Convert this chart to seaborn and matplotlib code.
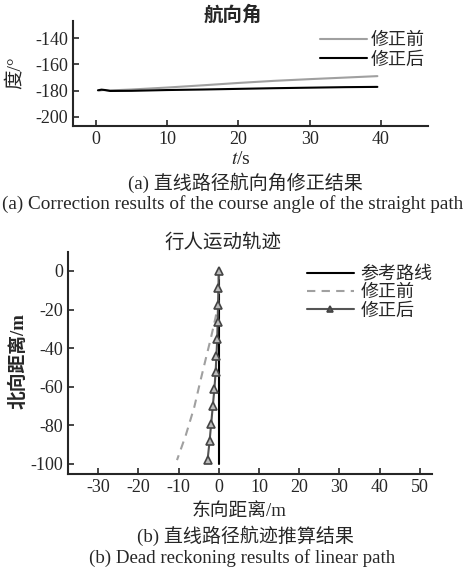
import numpy as np
import pandas as pd
import matplotlib
matplotlib.use("Agg")
import matplotlib.pyplot as plt
import seaborn as sns

# heading angle data
t_before = [0.5, 1.0, 2, 5, 10, 15, 20, 25, 30, 35, 39.5]
yaw_before = [-180, -179.6, -179.9, -179.2, -177.7, -176.0, -174.2, -172.6, -171.3, -170.1, -169.0]
t_after = [0.3, 0.8, 1.3, 2, 5, 10, 15, 20, 25, 30, 35, 39.5]
yaw_after = [-179.8, -179.3, -179.6, -180.3, -180.2, -179.6, -179.2, -178.7, -178.2, -177.8, -177.4, -177.2]

# trajectory data
ref_east = [0, 0]
ref_north = [0, -100]
before_east = [0, 0, -0.2, -0.8, -2.0, -3.3, -4.7, -6.1, -8.2, -10.4]
before_north = [0, -10, -17, -24, -35, -46, -58, -70.5, -85, -98]
after_east = [0, -0.1, -0.2, -0.3, -0.4, -0.6, -0.8, -1.1, -1.5, -1.9, -2.3, -2.8]
after_north = [0, -8.8, -17.6, -26.6, -35.4, -44.0, -52.5, -61.1, -70.0, -79.1, -88.2, -97.9]

sns.set_style("ticks")
plt.rcParams['font.family'] = ['Liberation Serif', 'Noto Sans CJK SC']
plt.rcParams['mathtext.fontset'] = 'stix'
plt.rcParams['axes.unicode_minus'] = False
plt.rcParams['xtick.direction'] = 'in'
plt.rcParams['ytick.direction'] = 'in'
plt.rcParams['axes.linewidth'] = 1.5

W, H = 469, 570
fig = plt.figure(figsize=(W / 100, H / 100), dpi=100)

def px_axes(l, t, r, b):
    return fig.add_axes([l / W, 1 - b / H, (r - l) / W, (b - t) / H])

# top: heading angle
ax1 = px_axes(73, 21, 428, 126)
sns.lineplot(x=t_before, y=yaw_before, ax=ax1, color="#a0a0a0", lw=1.5, label="修正前")
sns.lineplot(x=t_after, y=yaw_after, ax=ax1, color="black", lw=1.5, label="修正后")
ax1.set_xlim(-3.2, 46.6)
ax1.set_ylim(-207, -127)
ax1.set_xticks([0, 10, 20, 30, 40])
ax1.set_yticks([-140, -160, -180, -200])
ax1.tick_params(labelsize=13, length=4, width=1.2)
sns.despine(ax=ax1)
ax1.set_xlabel("")
ax1.set_ylabel("")
ax1.legend(loc="upper left", bbox_to_anchor=(320 / W, 1 - 32 / H), bbox_transform=fig.transFigure,
           frameon=False, fontsize=13, handlelength=2.6, handletextpad=0.2,
           borderpad=0, borderaxespad=0, labelspacing=0.15)

fig.text(233 / W, 1 - 15 / H, "航向角", ha="center", va="center", fontsize=14, fontweight="bold")
fig.text(15 / W, 1 - 73 / H, "度/°", ha="center", va="center", fontsize=14, rotation=90)
fig.text(241 / W, 1 - 159 / H, "$t$/s", ha="center", va="center", fontsize=14)
fig.text(245 / W, 1 - 183 / H, "(a) 直线路径航向角修正结果", ha="center", va="center", fontsize=13.7)
fig.text(233 / W, 1 - 204 / H, "(a) Correction results of the course angle of the straight path",
         ha="center", va="center", fontsize=13.8)

# bottom: trajectory
ax2 = px_axes(68, 252, 432, 474)
ax2.plot(ref_east, ref_north, color="black", lw=1.5, label="参考路线")
ax2.plot(before_east, before_north, color="#a0a0a0", lw=1.5, ls=(0, (4, 3)), label="修正前")
ax2.plot(after_east, after_north, color="#555555", lw=1.5, marker="^", ms=6,
         markerfacecolor="#bbbbbb", markeredgecolor="#444444", markeredgewidth=1.2, label="修正后")
ax2.set_xlim(-37.5, 53)
ax2.set_ylim(-105.2, 9.8)
ax2.set_xticks([-30, -20, -10, 0, 10, 20, 30, 40, 50])
ax2.set_yticks([0, -20, -40, -60, -80, -100])
ax2.tick_params(labelsize=13, length=4, width=1.2)
sns.despine(ax=ax2)
leg = ax2.legend(loc="upper left", bbox_to_anchor=(307 / W, 1 - 266 / H), bbox_transform=fig.transFigure,
                 frameon=False, fontsize=13, handlelength=2.6, handletextpad=0.35,
                 borderpad=0, borderaxespad=0, labelspacing=0.07)
for h in leg.legend_handles:
    h.set_markerfacecolor("#555555")
    h.set_markersize(5)

fig.text(223 / W, 1 - 243 / H, "行人运动轨迹", ha="center", va="center", fontsize=14)
fig.text(18 / W, 1 - 361 / H, "北向距离/m", ha="center", va="center", fontsize=13.5, rotation=90, fontweight="bold")
fig.text(239 / W, 1 - 511 / H, "东向距离/m", ha="center", va="center", fontsize=13.5)
fig.text(245 / W, 1 - 536 / H, "(b) 直线路径航迹推算结果", ha="center", va="center", fontsize=13.7)
fig.text(242 / W, 1 - 558 / H, "(b) Dead reckoning results of linear path", ha="center", va="center", fontsize=13.6)

fig.savefig("out.png", dpi=100)
